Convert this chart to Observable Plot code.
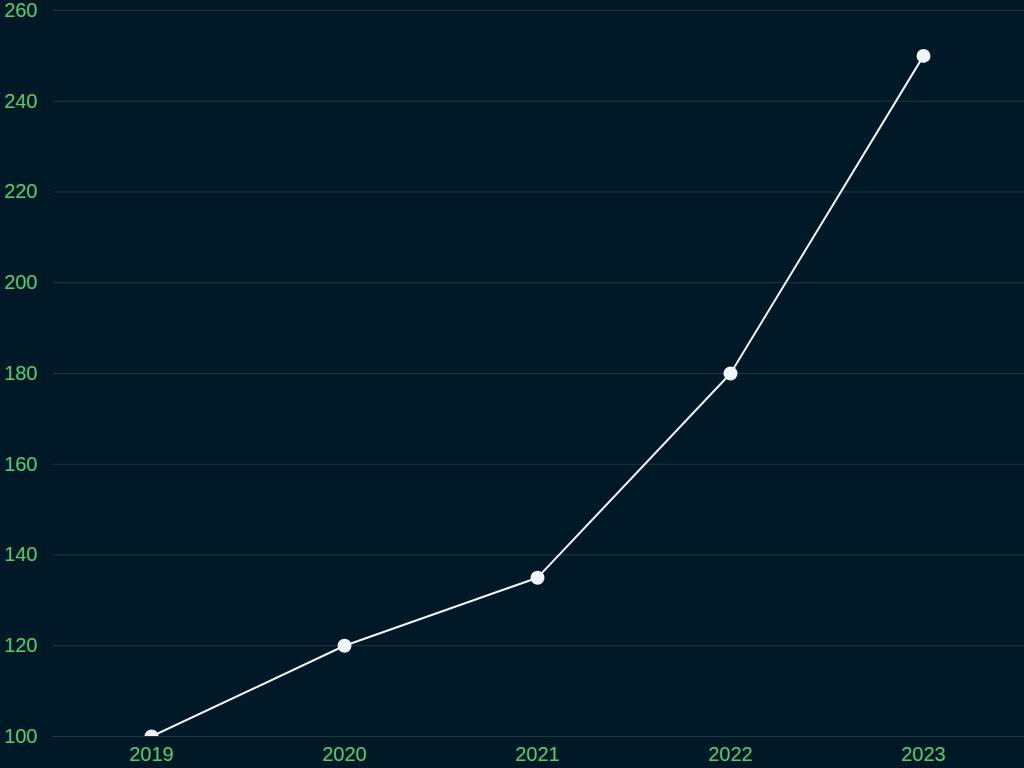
<!DOCTYPE html>
<html>
<head>
<meta charset="utf-8">
<script src="https://cdn.jsdelivr.net/npm/d3@7"></script>
<script src="https://cdn.jsdelivr.net/npm/@observablehq/plot@0.6"></script>
<style>
  html, body { margin: 0; padding: 0; background: #011826; }
</style>
</head>
<body>
<div id="chart"></div>
<script>
const years = ["2019", "2020", "2021", "2022", "2023"];
const values = [100, 120, 135, 180, 250];
const yTicks = [100, 120, 140, 160, 180, 200, 220, 240, 260];

const data = years.map((y, i) => ({year: y, value: values[i]}));

const chart = Plot.plot({
  width: 1024,
  height: 768,
  marginLeft: 53,
  marginRight: 0,
  marginTop: 10,
  marginBottom: 32,
  style: {background: "#011826", fontFamily: "Liberation Sans, Arial, sans-serif", fontSize: "20px", color: "#5cc86e"},
  x: {type: "point", domain: years, range: [150, 924], padding: 0, label: null},
  y: {domain: [100, 260], label: null},
  marks: [
    Plot.ruleY(yTicks, {stroke: "#1d3b3b", strokeWidth: 1}),
    Plot.axisY({ticks: yTicks, tickSize: 0, tickPadding: 16, label: null, fill: "#5cc86e", fontSize: 20}),
    Plot.axisX({tickSize: 0, tickPadding: 10, label: null, fill: "#5cc86e", fontSize: 20}),
    Plot.line(data, {x: "year", y: "value", stroke: "#f2f4fb", strokeWidth: 2, clip: true}),
    Plot.dot(data, {x: "year", y: "value", r: 7, fill: "#f2f4fb", clip: true})
  ]
});
document.getElementById("chart").appendChild(chart);
</script>
</body>
</html>
